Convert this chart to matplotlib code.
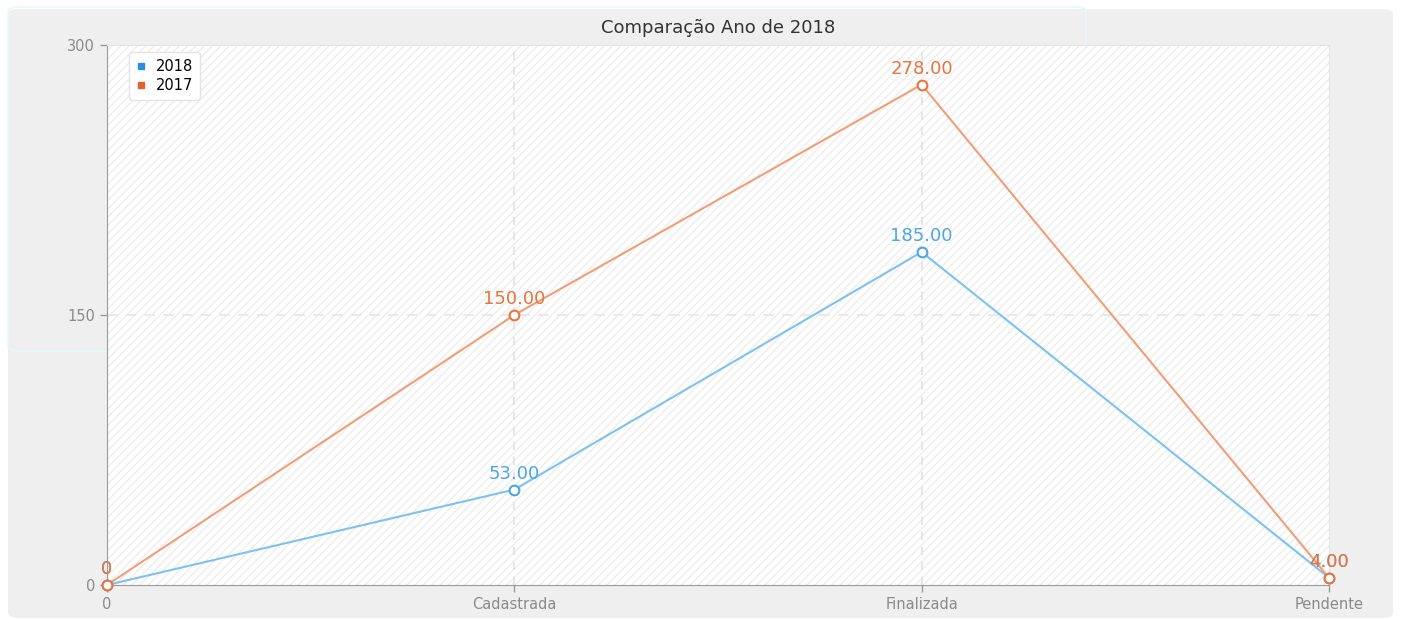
import matplotlib
import numpy as np
import matplotlib.pyplot as plt
from matplotlib.patches import FancyBboxPatch, Rectangle
from matplotlib.lines import Line2D

matplotlib.rcParams.update({'font.family': 'DejaVu Sans', 'hatch.linewidth': 0.8})

# data
categories = ['0', 'Cadastrada', 'Finalizada', 'Pendente']
vals_2018 = [0, 53, 185, 4]
vals_2017 = [0, 150, 278, 4]
labels_2018 = ['0', '53.00', '185.00', '4.00']
labels_2017 = ['0', '150.00', '278.00', '4.00']
yticks = [0, 150, 300]

blue_line = '#7fc1ef'
blue_text = '#4ea6e3'
orange_line = '#f09e78'
orange_text = '#e8743e'

fig = plt.figure(figsize=(14.01, 6.19), dpi=100)
fig.patch.set_facecolor('white')

# gray rounded panel behind the chart
bg = FancyBboxPatch((8 / 1401, 1 / 619), 1385 / 1401, 609 / 619,
                    boxstyle='round,pad=0,rounding_size=0.008',
                    transform=fig.transFigure, facecolor='#efefef',
                    edgecolor='none', zorder=-5)
fig.patches.append(bg)
ghost = FancyBboxPatch((8 / 1401, 268 / 619), 1078 / 1401, 344 / 619,
                       boxstyle='round,pad=0,rounding_size=0.008',
                       transform=fig.transFigure, facecolor='none',
                       edgecolor='#e6f8f8', linewidth=1.2, zorder=-4)
fig.patches.append(ghost)

ax = fig.add_axes([107 / 1401, 34 / 619, 1222 / 1401, 540 / 619])
ax.set_facecolor('white')
ax.add_patch(Rectangle((0, 0), 1, 1, transform=ax.transAxes, facecolor='white',
                       edgecolor='#ebebeb', hatch='////', linewidth=0, zorder=0))

x = np.arange(len(categories))
ax.plot(x, vals_2018, '-', color=blue_line, linewidth=1.5, zorder=3)
ax.plot(x, vals_2017, '-', color=orange_line, linewidth=1.5, zorder=3)
ax.plot(x, vals_2018, 'o', markerfacecolor='white', markeredgecolor=blue_text,
        markersize=7, markeredgewidth=1.5, zorder=4, clip_on=False)
ax.plot(x, vals_2017, 'o', markerfacecolor='white', markeredgecolor=orange_text,
        markersize=7, markeredgewidth=1.5, zorder=5, clip_on=False)

for xi, v, s in zip(x, vals_2018, labels_2018):
    ax.annotate(s, (xi, v), xytext=(0, 5), textcoords='offset points',
                ha='center', va='bottom', color=blue_text, fontsize=13, zorder=6)
for xi, v, s in zip(x, vals_2017, labels_2017):
    ax.annotate(s, (xi, v), xytext=(0, 5), textcoords='offset points',
                ha='center', va='bottom', color=orange_text, fontsize=13, zorder=7)

ax.set_xlim(0, len(categories) - 1)
ax.set_ylim(0, 300)
ax.set_xticks(x)
ax.set_xticklabels(categories)
ax.set_yticks(yticks)

for xc in x[1:-1]:
    ax.axvline(xc, color='#e2e2e2', linewidth=1.2, linestyle=(0, (5, 4)), zorder=1)
ax.axhline(150, color='#e9e9e9', linewidth=1.5, linestyle=(0, (5, 4)), zorder=1)

for side in ['top', 'right']:
    ax.spines[side].set_color('#e4e4e4')
for side in ['left', 'bottom']:
    ax.spines[side].set_color('#9a9a9a')
ax.tick_params(axis='both', colors='#9a9a9a', labelcolor='#8a8a8a', labelsize=10.5,
               length=5, width=1)

ax.set_title('Comparação Ano de 2018', fontsize=13, color='#333333', pad=9)

handles = [Line2D([], [], marker='s', linestyle='none', color='#2a90dc', markersize=5),
           Line2D([], [], marker='s', linestyle='none', color='#e06332', markersize=5)]
legend = ax.legend(handles, ['2018', '2017'], loc='upper left',
                   bbox_to_anchor=(0.012, 1.0), frameon=True, fancybox=True,
                   shadow=False, fontsize=10.5, handletextpad=0.6,
                   handlelength=0.8, borderpad=0.45, labelspacing=0.3)
frame = legend.get_frame()
frame.set_facecolor('white')
frame.set_edgecolor('#e4e4e4')
frame.set_alpha(1)

plt.savefig('out.png', dpi=100)
